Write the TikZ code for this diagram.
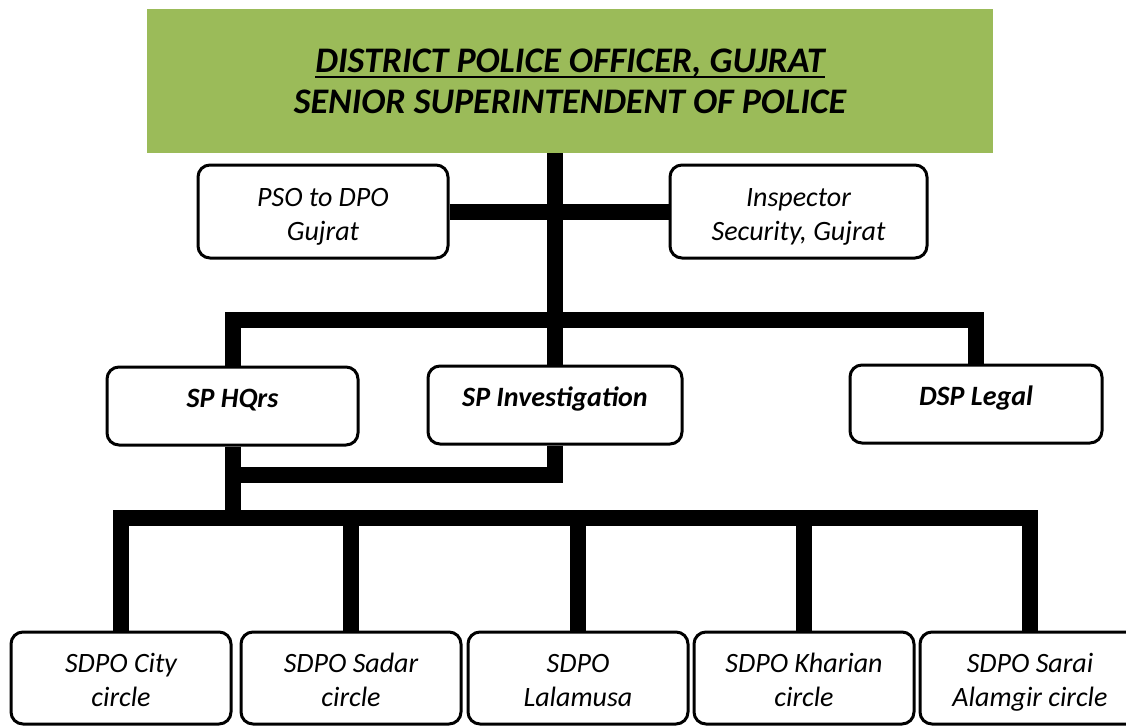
\documentclass[tikz,border=0pt]{standalone}
\usepackage{fontspec}
\setmainfont{Carlito}
\newcommand{\thickul}[1]{\setbox0\hbox{#1}\rlap{\rule[-6pt]{\wd0}{2.4pt}}\box0}
\definecolor{dpogreen}{HTML}{9BBB59}

\begin{document}
\begin{tikzpicture}
        [x=1pt,y=-1pt,
         box/.style={draw,line width=3pt,rounded corners=12pt,fill=white,
           minimum width=#1,minimum height=93pt,inner sep=0pt,align=center,
           text height=63pt,text depth=6pt,
           font=\fontsize{28}{34}\selectfont\itshape},
         box/.default=220pt,
         rankbox/.style={box=#1,minimum height=78pt,text height=20pt,text depth=18pt,
           font=\fontsize{28}{34}\selectfont\bfseries\itshape},
         link/.style={line width=16pt,line join=miter}]
        \useasboundingbox (0,0) rectangle (1126,725);

        % head of the district
        \node[fill=dpogreen,minimum width=846pt,minimum height=144pt,align=center,
          text height=65pt,text depth=1pt,
          font=\fontsize{36}{41}\selectfont\bfseries\itshape] (dpo) at (570,81)
          {\thickul{DISTRICT POLICE OFFICER, GUJRAT}\\SENIOR SUPERINTENDENT OF POLICE};

        \node[box=250pt] (pso) at (323,211.5) {PSO to DPO\\Gujrat};
        \node[box=257pt] (insp) at (798.5,211.5) {Inspector\\Security, Gujrat};

        \node[rankbox=251pt] (hq) at (232.5,406) {SP HQrs};
        \node[rankbox=254pt] (inv) at (555,405) {SP Investigation};
        \node[rankbox=252pt] (legal) at (976,404) {DSP Legal};

        % circles
        \node[box,minimum height=92pt] (city) at (121,678) {SDPO City\\circle};
        \node[box,minimum height=92pt] (sadar) at (351,678) {SDPO Sadar\\circle};
        \node[box,minimum height=92pt] (lala) at (578,678) {SDPO\\Lalamusa};
        \node[box,minimum height=92pt] (kharian) at (804,678) {SDPO Kharian\\circle};
        \node[box,minimum height=92pt] (sarai) at (1030,678) {SDPO Sarai\\Alamgir circle};

        \coordinate (topbar) at (0,320);
        \coordinate (midbar) at (0,475);
        \coordinate (lowbar) at (0,518);

        \draw[link] (dpo.south -| inv.north) -- (inv.north);
        \draw[link] (pso.east) -- (insp.west);
        \draw[link] (hq.north) -- (hq.north |- topbar) -- (legal.north |- topbar) -- (legal.north);

        \draw[link] (inv.south) -- (inv.south |- midbar) -- (hq.south |- midbar);
        \draw[link] (hq.south) -- (hq.south |- lowbar);
        \draw[link] (city.north) -- (city.north |- lowbar) -- (sarai.north |- lowbar) -- (sarai.north);
        \foreach \n in {sadar,lala,kharian}
        {\draw[link] (\n.north) -- (\n.north |- lowbar);}
      \end{tikzpicture}
\end{document}
